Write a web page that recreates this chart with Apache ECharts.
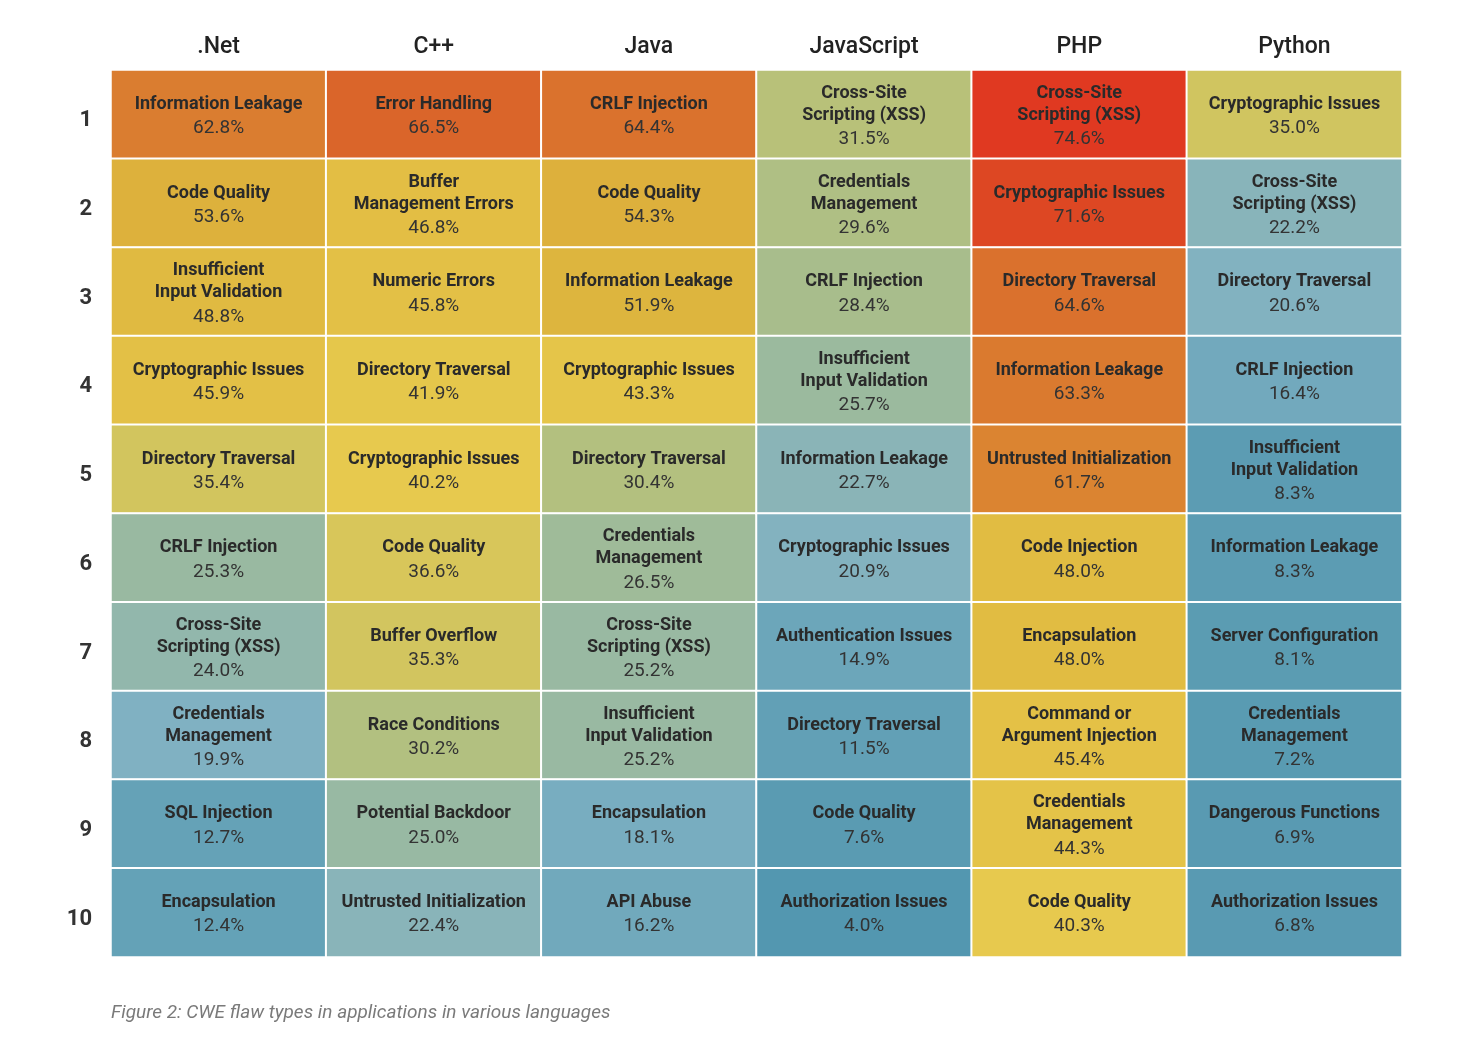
<!DOCTYPE html>
<html>
<head>
<meta charset="utf-8">
<script src="https://cdn.jsdelivr.net/npm/echarts@6/dist/echarts.min.js"></script>
<style>
html,body{margin:0;padding:0;background:#fff;}
#chart{width:1468px;height:1054px;}
</style>
</head>
<body>
<div id="chart"></div>
<script>
const languages = [".Net", "C++", "Java", "JavaScript", "PHP", "Python"];
const ranks = ["1","2","3","4","5","6","7","8","9","10"];

const netNames = ["Information Leakage","Code Quality","Insufficient\nInput Validation","Cryptographic Issues","Directory Traversal","CRLF Injection","Cross-Site\nScripting (XSS)","Credentials\nManagement","SQL Injection","Encapsulation"];
const netVals = [62.8,53.6,48.8,45.9,35.4,25.3,24.0,19.9,12.7,12.4];
const cppNames = ["Error Handling","Buffer\nManagement Errors","Numeric Errors","Directory Traversal","Cryptographic Issues","Code Quality","Buffer Overflow","Race Conditions","Potential Backdoor","Untrusted Initialization"];
const cppVals = [66.5,46.8,45.8,41.9,40.2,36.6,35.3,30.2,25.0,22.4];
const javaNames = ["CRLF Injection","Code Quality","Information Leakage","Cryptographic Issues","Directory Traversal","Credentials\nManagement","Cross-Site\nScripting (XSS)","Insufficient\nInput Validation","Encapsulation","API Abuse"];
const javaVals = [64.4,54.3,51.9,43.3,30.4,26.5,25.2,25.2,18.1,16.2];
const jsNames = ["Cross-Site\nScripting (XSS)","Credentials\nManagement","CRLF Injection","Insufficient\nInput Validation","Information Leakage","Cryptographic Issues","Authentication Issues","Directory Traversal","Code Quality","Authorization Issues"];
const jsVals = [31.5,29.6,28.4,25.7,22.7,20.9,14.9,11.5,7.6,4.0];
const phpNames = ["Cross-Site\nScripting (XSS)","Cryptographic Issues","Directory Traversal","Information Leakage","Untrusted Initialization","Code Injection","Encapsulation","Command or\nArgument Injection","Credentials\nManagement","Code Quality"];
const phpVals = [74.6,71.6,64.6,63.3,61.7,48.0,48.0,45.4,44.3,40.3];
const pyNames = ["Cryptographic Issues","Cross-Site\nScripting (XSS)","Directory Traversal","CRLF Injection","Insufficient\nInput Validation","Information Leakage","Server Configuration","Credentials\nManagement","Dangerous Functions","Authorization Issues"];
const pyVals = [35.0,22.2,20.6,16.4,8.3,8.3,8.1,7.2,6.9,6.8];

const caption = "Figure 2: CWE flaw types in applications in various languages";

// colour ramp, one stop every 2.5 percentage points from 0 to 80
const colorStops = [
  "#4E93AE","#5196AF","#5598B1","#5A9BB2","#5F9EB4","#64A2B7","#6CA6BA","#76ACBF",
  "#80B1C2","#89B4B9","#98B9A3","#A3BC92","#B1C081","#BDC274","#D0C560","#DDC756",
  "#E7C94E","#E5C64A","#E4C247","#E2BD43","#DFB840","#DDB43D","#DDAE3B","#DD9F37",
  "#DC9034","#DA7F30","#DA6E2C","#DA5F29","#DC4F25","#DE4222","#E03721","#E03320","#E03020"
];

const columns = [
  [netNames, netVals], [cppNames, cppVals], [javaNames, javaVals],
  [jsNames, jsVals], [phpNames, phpVals], [pyNames, pyVals]
];
const data = [];
columns.forEach(function (col, ci) {
  col[0].forEach(function (name, ri) {
    data.push({ value: [ci, ri, col[1][ri]], name: name });
  });
});

const FONT = "Roboto";
const chart = echarts.init(document.getElementById('chart'), null, { renderer: 'canvas' });
chart.setOption({
  backgroundColor: '#ffffff',
  animation: false,
  textStyle: { fontFamily: FONT },
  grid: { left: 111, top: 70, width: 1291, height: 887 },
  xAxis: {
    type: 'category', data: languages, position: 'top',
    axisLine: { show: false }, axisTick: { show: false }, splitLine: { show: false },
    axisLabel: { fontSize: 23, fontWeight: 500, color: '#222', margin: 11, fontFamily: FONT }
  },
  yAxis: {
    type: 'category', data: ranks, inverse: true,
    axisLine: { show: false }, axisTick: { show: false }, splitLine: { show: false },
    axisLabel: { fontSize: 22, fontWeight: 'bold', color: '#333', margin: 19, fontFamily: FONT,
                 verticalAlign: 'top', lineHeight: 13 }
  },
  visualMap: {
    show: false, type: 'continuous', min: 0, max: 80, dimension: 2,
    inRange: { color: colorStops }
  },
  series: [{
    type: 'heatmap',
    data: data,
    itemStyle: { borderColor: '#ffffff', borderWidth: 2 },
    label: {
      show: true,
      offset: [0, 3],
      formatter: function (p) {
        const lines = p.data.name.split('\n').map(function (s) { return '{n|' + s + '}'; });
        return lines.join('\n') + '\n{v|' + p.data.value[2].toFixed(1) + '%}';
      },
      rich: {
        n: { fontSize: 18, fontWeight: 'bold', color: '#2a2a2a', lineHeight: 22, fontFamily: FONT },
        v: { fontSize: 19, fontWeight: 400, color: '#333', lineHeight: 26, fontFamily: FONT }
      }
    },
    emphasis: { disabled: true }
  }],
  graphic: [{
    type: 'text', left: 111, top: 1004,
    style: { text: caption, fontSize: 19, fontStyle: 'italic', fill: '#7a7a7a', fontFamily: FONT }
  }]
});
</script>
</body>
</html>
